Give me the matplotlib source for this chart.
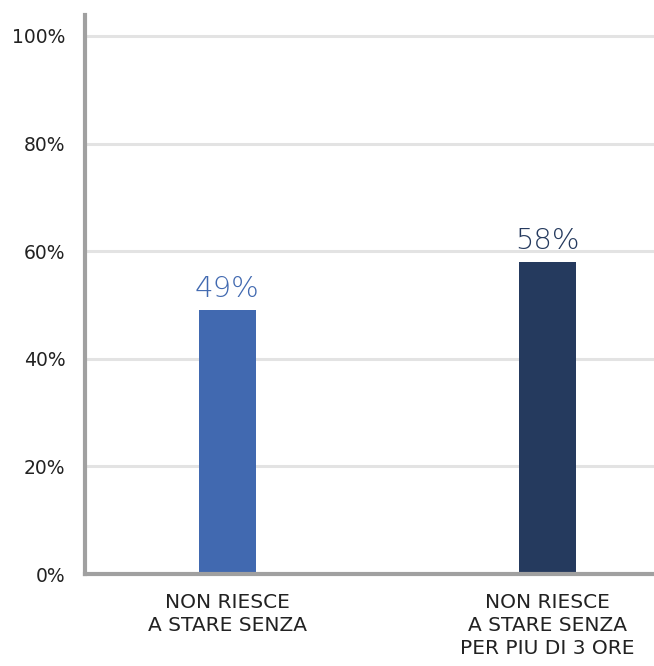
import matplotlib.pyplot as plt
import numpy as np

plt.rcParams['font.family'] = ['DejaVu Sans']

# Data
categories = ['NON RIESCE\nA STARE SENZA', 'NON RIESCE\nA STARE SENZA\nPER PIU DI 3 ORE']
values = [49, 58]
value_labels = ['49%', '58%']
yticks = [0, 20, 40, 60, 80, 100]
ytick_labels = ['0%', '20%', '40%', '60%', '80%', '100%']

colors = ['#4169B0', '#253A5E']

fig = plt.figure(figsize=(6.54, 6.66), dpi=100)
ax = fig.add_axes([85 / 654, 1 - 574 / 666, 570 / 654, (574 - 15) / 666])

x = np.arange(len(categories))
bars = ax.bar(x, values, width=0.178, color=colors, zorder=3)

# value labels above bars
for bar, lab, c in zip(bars, value_labels, colors):
    ax.annotate(lab, (bar.get_x() + bar.get_width() / 2, bar.get_height()),
                xytext=(0, 5), textcoords='offset points',
                ha='center', va='bottom', fontsize=21, color=c,
                fontweight='light')

ax.set_xlim(-0.445, 1.336)
ax.set_ylim(0, 103.9)

ax.set_yticks(yticks)
ax.set_yticklabels(ytick_labels, fontsize=13.5, color='#222222')
ax.set_xticks(x)
ax.set_xticklabels(categories, fontsize=14.5, color='#222222', linespacing=1.25)
ax.tick_params(axis='both', length=0)
ax.tick_params(axis='y', pad=14)
ax.tick_params(axis='x', pad=14)

ax.grid(axis='y', color='#E3E3E3', linewidth=2.2, zorder=0)
ax.set_axisbelow(True)

for side in ['top', 'right']:
    ax.spines[side].set_visible(False)
for side in ['left', 'bottom']:
    ax.spines[side].set_color('#A0A0A0')
    ax.spines[side].set_linewidth(3)
    ax.spines[side].set_zorder(4)

plt.savefig('out.png', dpi=100)
